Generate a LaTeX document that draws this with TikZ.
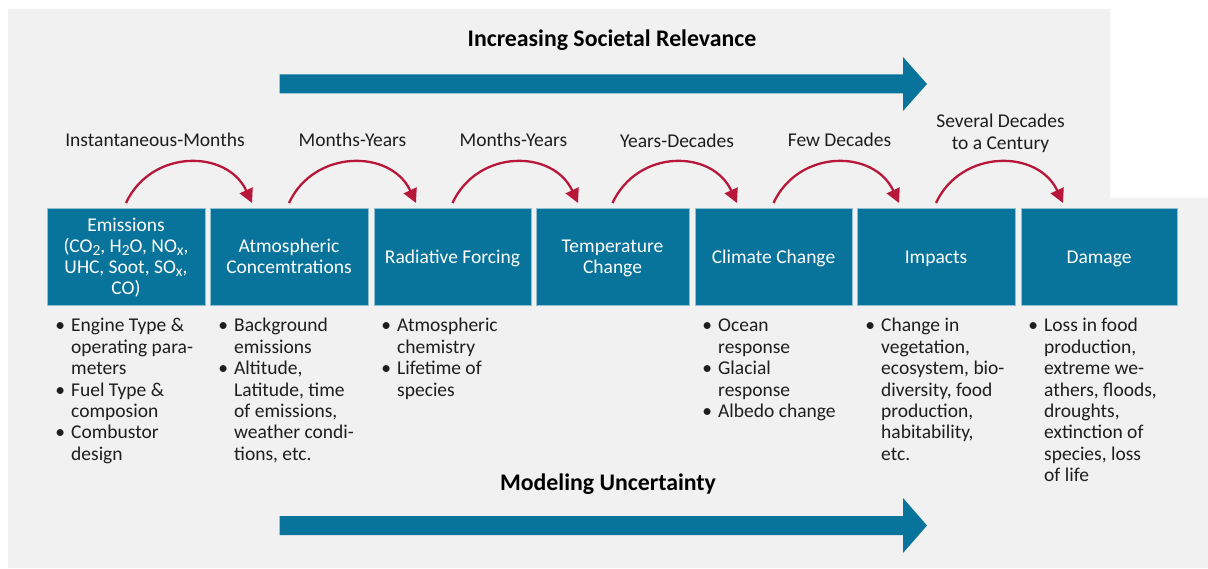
\documentclass[tikz,border=0pt]{standalone}
\usepackage{fontspec}
\setmainfont{Carlito}
\usepackage{graphicx}
\usetikzlibrary{arrows.meta,calc}
\definecolor{boxblue}{RGB}{8,115,155}
\definecolor{arcred}{RGB}{183,24,58}
\definecolor{bggray}{RGB}{241,241,241}
\definecolor{txtdark}{RGB}{30,30,30}
\newcommand\sbs[1]{\raisebox{-3pt}{\fontsize{15.5}{15.5}\selectfont #1}}
\newcommand\bul{\llap{\textbullet\hspace{6pt}}}
\begin{document}
\begin{tikzpicture}[x=1pt,y=-1pt,
 stage/.style={draw=boxblue!45!white, line width=0.9pt, fill=boxblue, minimum height=97pt, inner sep=0pt, outer sep=0pt},
 stagetext/.style={anchor=base, inner sep=0pt, text=white, font=\fontsize{19.5}{21}\selectfont},
 bulletlist/.style={anchor=base west, inner sep=0pt, text=txtdark, font=\fontsize{19.5}{21.4}\selectfont},
 timelabel/.style={anchor=base, inner sep=0pt, text=txtdark, font=\fontsize{19.5}{21.7}\selectfont},
 flow/.style={draw=arcred, line width=2.3pt, -{Triangle[length=14pt,width=14pt]}},
 heading/.style={anchor=base, inner sep=0pt, text=black, font=\bfseries\fontsize{23.8}{28}\selectfont}]
\useasboundingbox (0,0) rectangle (1208,569);
% background
\fill[bggray] (8,9) -- (1110,9) -- (1110,198) -- (1208,198) -- (1208,568) -- (8,568) -- cycle;
% big arrows
\fill[boxblue] (279.5,74.5) -- (903,74.5) -- (903,57) -- (927,84) -- (903,111) -- (903,93.5) -- (279.5,93.5) -- cycle;
\fill[boxblue] (279.5,516) -- (903,516) -- (903,498) -- (927,525.5) -- (903,553) -- (903,535) -- (279.5,535) -- cycle;
\node[heading] (h1) at (612,47) {Increasing Societal Relevance};
\node[heading] (h2) at (608,490) {Modeling Uncertainty};
% stages
\node[stage, minimum width=158pt] (b1) at (126,256.5) {};
\node[stage, minimum width=158pt] (b2) at (289,256.5) {};
\node[stage, minimum width=157pt] (b3) at (452.5,256.5) {};
\node[stage, minimum width=153pt] (b4) at (612.5,256.5) {};
\node[stage, minimum width=157pt] (b5) at (773.5,256.5) {};
\node[stage, minimum width=158pt] (b6) at (936,256.5) {};
\node[stage, minimum width=156pt] (b7) at (1099,256.5) {};
\node[stagetext] (t1) at ($(b1.center)+(0,-24.5)$) {\begin{tabular}[t]{@{}c@{}}Emissions\\(CO\sbs{2}, H\sbs{2}O, NO\sbs{x},\\UHC, Soot, SO\sbs{x},\\CO)\end{tabular}};
\node[stagetext] (t2) at ($(b2.center)+(0,-3.5)$) {\begin{tabular}[t]{@{}c@{}}Atmospheric\\Concemtrations\end{tabular}};
\node[stagetext] (t3) at ($(b3.center)+(0,7)$) {Radiative Forcing};
\node[stagetext] (t4) at ($(b4.center)+(0,-3.5)$) {\begin{tabular}[t]{@{}c@{}}Temperature\\Change\end{tabular}};
\node[stagetext] (t5) at ($(b5.center)+(0,7)$) {Climate Change};
\node[stagetext] (t6) at ($(b6.center)+(0,7)$) {Impacts};
\node[stagetext] (t7) at ($(b7.center)+(0,7)$) {Damage};
% bullet lists
\node[bulletlist] (l1) at ($(b1.south west)+(24,27)$) {\begin{tabular}[t]{@{}l@{}}\bul Engine Type \&\\operating para-\\meters\\\bul Fuel Type \&\\composion\\\bul Combustor\\design\end{tabular}};
\node[bulletlist] (l2) at ($(b2.south west)+(24,27)$) {\begin{tabular}[t]{@{}l@{}}\bul Background\\emissions\\\bul Altitude,\\Latitude, time\\of emissions,\\weather condi-\\tions, etc.\end{tabular}};
\node[bulletlist] (l3) at ($(b3.south west)+(23,27)$) {\begin{tabular}[t]{@{}l@{}}\bul Atmospheric\\chemistry\\\bul Lifetime of\\species\end{tabular}};
\node[bulletlist] (l5) at ($(b5.south west)+(23,27)$) {\begin{tabular}[t]{@{}l@{}}\bul Ocean\\response\\\bul Glacial\\response\\\bul Albedo change\end{tabular}};
\node[bulletlist] (l6) at ($(b6.south west)+(24,27)$) {\begin{tabular}[t]{@{}l@{}}\bul Change in\\vegetation,\\ecosystem, bio-\\diversity, food\\production,\\habitability,\\etc.\end{tabular}};
\node[bulletlist] (l7) at ($(b7.south west)+(23,27)$) {\begin{tabular}[t]{@{}l@{}}\bul Loss in food\\production,\\extreme we-\\athers, floods,\\droughts,\\extinction of\\species, loss\\of life\end{tabular}};
% time labels
\node[timelabel] (m1) at (155,147) {Instantaneous-Months};
\node[timelabel] (m2) at (352.5,146.5) {Months-Years};
\node[timelabel] (m3) at (513.5,146.5) {Months-Years};
\node[timelabel] (m4) at (677,148) {Years-Decades};
\node[timelabel] (m5) at (839.5,146.5) {Few Decades};
\node[timelabel] (m6) at (1000.5,128) {\begin{tabular}[t]{@{}c@{}}Several Decades\\to a Century\end{tabular}};
% transitions
\draw[flow] ($(b1.north)+(0,-5)$) .. controls +(25,-54) and +(-25,-54) .. ($(b2.north west)+(42,-5)$);
\draw[flow] ($(b2.north)+(0,-5)$) .. controls +(25,-54) and +(-25,-54) .. ($(b3.north west)+(42,-5)$);
\draw[flow] ($(b3.north)+(0,-5)$) .. controls +(25,-54) and +(-25,-54) .. ($(b4.north west)+(42,-5)$);
\draw[flow] ($(b4.north)+(0,-5)$) .. controls +(25,-54) and +(-25,-54) .. ($(b5.north west)+(42,-5)$);
\draw[flow] ($(b5.north)+(0,-5)$) .. controls +(25,-54) and +(-25,-54) .. ($(b6.north west)+(42,-5)$);
\draw[flow] ($(b6.north)+(0,-5)$) .. controls +(25,-54) and +(-25,-54) .. ($(b7.north west)+(42,-5)$);
\end{tikzpicture}
\end{document}
